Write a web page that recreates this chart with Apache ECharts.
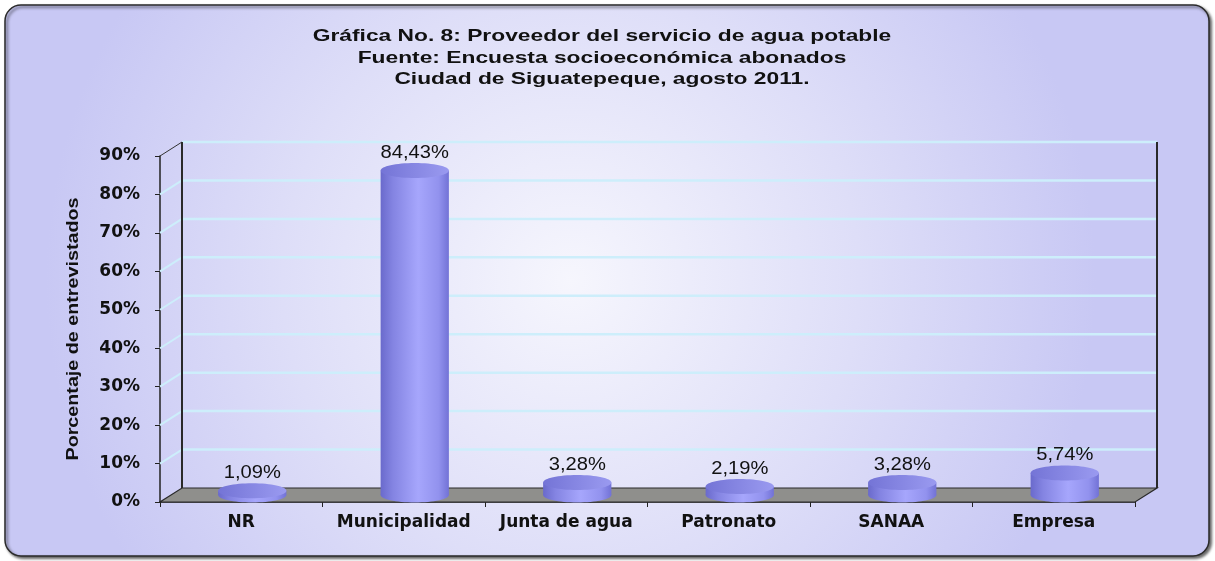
<!DOCTYPE html>
<html>
<head>
<meta charset="utf-8">
<script src="https://cdn.jsdelivr.net/npm/echarts@6/dist/echarts.min.js"></script>
<style>
  html, body { margin: 0; padding: 0; background: #fff; }
  #chart { width: 1215px; height: 561px; }
</style>
</head>
<body>
<div id="chart"></div>
<script>
// datos de la gráfica
var categorias = ["NR", "Municipalidad", "Junta de agua", "Patronato", "SANAA", "Empresa"];
var porcentajes = [1.09, 84.43, 3.28, 2.19, 3.28, 5.74];
var ticksY = [0, 10, 20, 30, 40, 50, 60, 70, 80, 90];
var titulo = [
  "Gráfica No. 8: Proveedor del servicio de agua potable",
  "Fuente: Encuesta socioeconómica abonados",
  "Ciudad de Siguatepeque, agosto 2011."
];
var nombreEjeY = "Porcentaje de entrevistados";

// desplazamiento de la pared del fondo (efecto 3D)
var DX = 22, DY = -14;

function etiqueta(v) {
  return v.toFixed(2).replace(".", ",") + "%";
}

// paredes, piso y lineas de division
function renderMarco(params, api) {
  var cs = params.coordSys;
  var x0 = cs.x, x1 = cs.x + cs.width;
  var ultimo = ticksY[ticksY.length - 1];
  var hijos = [];
  ticksY.forEach(function (t) {
    var y = api.coord([0, t])[1];
    if (t > 0) {
      hijos.push({
        type: "line",
        shape: { x1: x0 + DX, y1: y + DY, x2: x1 + DX, y2: y + DY },
        style: { stroke: "#cdeefb", lineWidth: 2.5 }
      });
      hijos.push({
        type: "line",
        shape: { x1: x0, y1: y, x2: x0 + DX, y2: y + DY },
        style: { stroke: t === ultimo ? "#333" : "#cdeefb", lineWidth: t === ultimo ? 1 : 2 }
      });
    }
  });
  var yb = api.coord([0, 0])[1];
  var yt = api.coord([0, ultimo])[1];
  // piso
  hijos.push({
    type: "polygon",
    shape: { points: [[x0, yb], [x1, yb], [x1 + DX, yb + DY], [x0 + DX, yb + DY]] },
    style: { fill: "#8f8f8c", stroke: "#2a2a2a", lineWidth: 1.2 }
  });
  // aristas verticales del fondo
  hijos.push({
    type: "line",
    shape: { x1: x0 + DX, y1: yb + DY, x2: x0 + DX, y2: yt + DY },
    style: { stroke: "#2a2a2a", lineWidth: 2 }
  });
  hijos.push({
    type: "line",
    shape: { x1: x1 + DX, y1: yb + DY, x2: x1 + DX, y2: yt + DY },
    style: { stroke: "#2a2a2a", lineWidth: 2 }
  });
  return { type: "group", children: hijos };
}

// cilindros
function renderCilindro(params, api) {
  var i = api.value(0), v = api.value(1);
  var base = api.coord([i, 0]);
  var tope = api.coord([i, v]);
  var cx = base[0] + DX / 2;
  var yb = base[1] + DY / 2;
  var yt = tope[1] + DY / 2;
  var rx = api.size([1, 0])[0] * 0.21;
  var ry = 7.5;
  var cuerpo = new echarts.graphic.LinearGradient(0, 0, 1, 0, [
    { offset: 0, color: "#6a6acc" },
    { offset: 0.18, color: "#8484e2" },
    { offset: 0.55, color: "#a6a6fc" },
    { offset: 0.85, color: "#9292ee" },
    { offset: 1, color: "#7272d6" }
  ]);
  var tapa = new echarts.graphic.LinearGradient(0, 0, 1, 0, [
    { offset: 0, color: "#7474d6" },
    { offset: 1, color: "#9a9af0" }
  ]);
  return {
    type: "group",
    children: [
      { type: "ellipse", shape: { cx: cx, cy: yb, rx: rx, ry: ry }, style: { fill: cuerpo } },
      { type: "rect", shape: { x: cx - rx, y: yt, width: 2 * rx, height: Math.max(yb - yt, 0) }, style: { fill: cuerpo } },
      { type: "ellipse", shape: { cx: cx, cy: yt, rx: rx, ry: ry }, style: { fill: tapa } },
      {
        type: "text",
        x: cx, y: yt - ry - 1, scaleX: 1.12,
        style: {
          text: etiqueta(v), fill: "#111",
          font: "18px 'Liberation Sans', Arial, sans-serif",
          textAlign: "center", textVerticalAlign: "bottom"
        }
      }
    ]
  };
}

var chart = echarts.init(document.getElementById("chart"));
chart.setOption({
  animation: false,
  graphic: [
    {
      type: "rect", z: -10,
      shape: { x: 5, y: 5, width: 1204, height: 551, r: 16 },
      style: {
        fill: new echarts.graphic.RadialGradient(0.47, 0.5, 0.95, [
          { offset: 0, color: "#f6f6fd" },
          { offset: 0.55, color: "#dedef8" },
          { offset: 1, color: "#c8c8f4" }
        ]),
        stroke: "#2a2a2a", lineWidth: 1.5,
        shadowBlur: 3, shadowOffsetX: 2, shadowOffsetY: 2, shadowColor: "rgba(0,0,0,0.6)"
      }
    },
    {
      type: "text", x: 602, y: 26, scaleX: 1.34,
      style: {
        text: titulo.join("\n"), fill: "#111",
        font: "bold 17px 'Liberation Sans', Arial, sans-serif",
        lineHeight: 21.5, textAlign: "center", textVerticalAlign: "top"
      }
    },
    {
      type: "text", x: 73, y: 329, rotation: Math.PI / 2, scaleX: 1.16,
      style: {
        text: nombreEjeY, fill: "#111",
        font: "bold 17px 'Liberation Sans', Arial, sans-serif",
        textAlign: "center", textVerticalAlign: "middle"
      }
    }
  ],
  grid: { left: 160, right: 80, top: 156, bottom: 59 },
  xAxis: {
    type: "category",
    data: categorias,
    axisLine: { lineStyle: { color: "#222", width: 1.5 } },
    axisTick: { show: true, length: 5, lineStyle: { color: "#222" } },
    axisLabel: { interval: 0, hideOverlap: false, margin: 12, color: "#111", fontWeight: "bold", fontSize: 17, fontFamily: "DejaVu Sans" },
    splitLine: { show: false }
  },
  yAxis: {
    type: "value",
    min: 0, max: 90, interval: 10,
    axisLine: { show: true, lineStyle: { color: "#222", width: 1.5 } },
    axisTick: { show: true, length: 5, lineStyle: { color: "#222" } },
    axisLabel: { margin: 20, formatter: "{value}%", color: "#111", fontWeight: "bold", fontSize: 17, fontFamily: "DejaVu Sans" },
    splitLine: { show: false }
  },
  series: [
    {
      type: "custom", name: "marco", z: 1, silent: true,
      renderItem: renderMarco,
      data: [[0, 0]],
      encode: { x: 0, y: 1 }
    },
    {
      type: "custom", name: "Proveedor", z: 3,
      renderItem: renderCilindro,
      data: porcentajes.map(function (v, i) { return [i, v]; }),
      encode: { x: 0, y: 1 }
    }
  ]
});
</script>
</body>
</html>
